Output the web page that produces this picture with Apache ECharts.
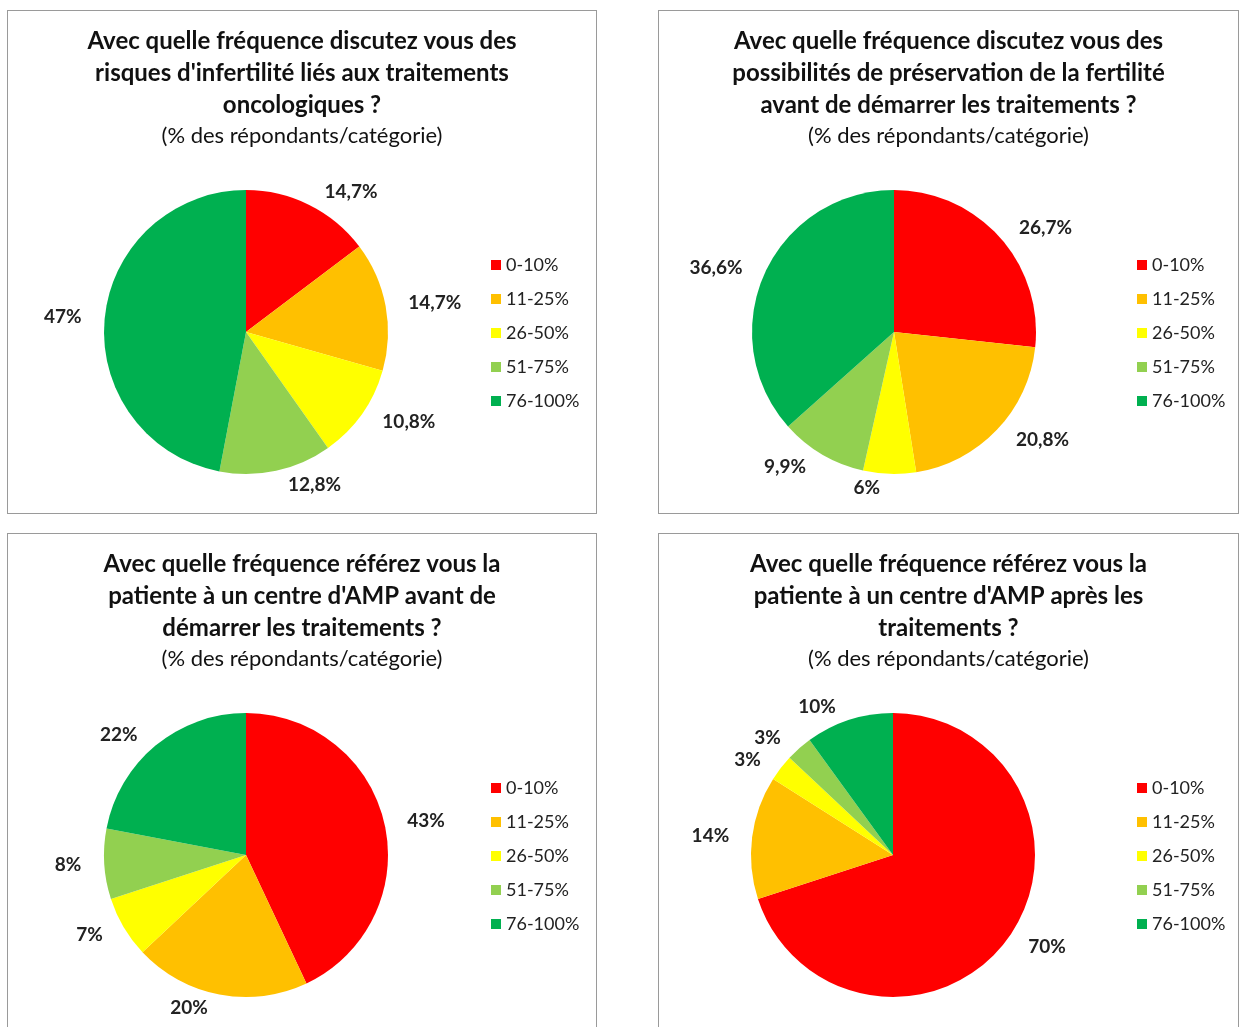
<!DOCTYPE html>
<html>
<head>
<meta charset="utf-8">
<script src="https://cdn.jsdelivr.net/npm/echarts@6/dist/echarts.min.js"></script>
<style>
  html, body { margin: 0; padding: 0; background: #fff; width: 1240px; height: 1027px; overflow: hidden; }
  .panel { position: absolute; border: 1px solid #9a9a9a; box-sizing: border-box; background: #fff; }
</style>
</head>
<body>
<div id="p1" class="panel" style="left:7px; top:10px; width:590px; height:504px;"></div>
<div id="p2" class="panel" style="left:658px; top:10px; width:581px; height:504px;"></div>
<div id="p3" class="panel" style="left:7px; top:533px; width:590px; height:505px;"></div>
<div id="p4" class="panel" style="left:658px; top:533px; width:581px; height:505px;"></div>
<script>
const categories = ['0-10%', '11-25%', '26-50%', '51-75%', '76-100%'];
const colors = ['#FF0000', '#FFC000', '#FFFF00', '#92D050', '#00B050'];

const values1 = [14.7, 14.7, 10.8, 12.8, 47];
const values2 = [26.7, 20.8, 6, 9.9, 36.6];
const values3 = [43, 20, 7, 8, 22];
const values4 = [70, 14, 3, 3, 10];

const title1 = "Avec quelle fréquence discutez vous des\nrisques d'infertilité liés aux traitements\noncologiques ?";
const title2 = "Avec quelle fréquence discutez vous des\npossibilités de préservation de la fertilité\navant de démarrer les traitements ?";
const title3 = "Avec quelle fréquence référez vous la\npatiente à un centre d'AMP avant de\ndémarrer les traitements ?";
const title4 = "Avec quelle fréquence référez vous la\npatiente à un centre d'AMP après les\ntraitements ?";
const subtitle = "(% des répondants/catégorie)";

const FONT = 'Lato, "Open Sans", sans-serif';

function build(el, title, values, cx, legendLeft) {
  const chart = echarts.init(document.getElementById(el), null, { renderer: 'canvas' });
  chart.setOption({
    animation: false,
    color: colors,
    title: {
      text: title,
      subtext: subtitle,
      left: 'center',
      top: 9,
      itemGap: 2,
      textStyle: { fontFamily: FONT, fontWeight: 'bold', fontSize: 24, lineHeight: 32, color: '#111' },
      subtextStyle: { fontFamily: FONT, fontSize: 22, lineHeight: 26, color: '#111' }
    },
    legend: {
      orient: 'vertical',
      left: legendLeft,
      top: 239,
      itemWidth: 10,
      itemHeight: 10,
      itemGap: 14,
      icon: 'rect',
      selectedMode: false,
      data: categories,
      textStyle: { fontFamily: FONT, fontSize: 18, lineHeight: 20, color: '#222' }
    },
    series: [{
      type: 'pie',
      center: [cx, 321],
      radius: [0, 142],
      startAngle: 90,
      clockwise: true,
      avoidLabelOverlap: true,
      itemStyle: { borderWidth: 0 },
      label: {
        show: true,
        position: 'outside',
        fontFamily: FONT,
        fontWeight: 'bold',
        fontSize: 19,
        color: '#222',
        formatter: function (p) { return String(p.value).replace('.', ',') + '%'; }
      },
      labelLine: { show: false, length: 14, length2: 4 },
      data: categories.map(function (c, i) { return { name: c, value: values[i] }; })
    }]
  });
}

build('p1', title1, values1, 238, 478);
build('p2', title2, values2, 235, 473);
build('p3', title3, values3, 238, 478);
build('p4', title4, values4, 234, 473);
</script>
</body>
</html>
